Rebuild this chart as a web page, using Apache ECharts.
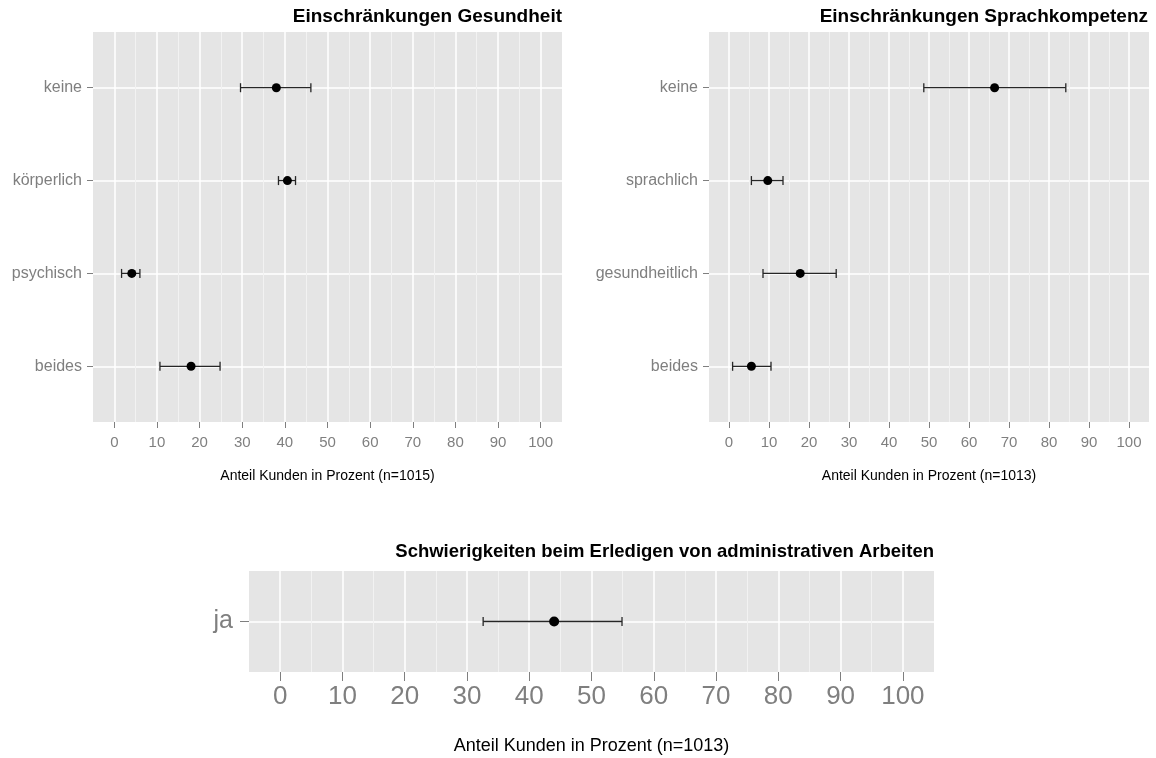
<!DOCTYPE html>
<html>
<head>
<meta charset="utf-8">
<script src="https://cdn.jsdelivr.net/npm/echarts@6/dist/echarts.min.js"></script>
<style>
  html, body { margin: 0; padding: 0; background: #ffffff; }
  #chart { width: 1156px; height: 758px; }
</style>
</head>
<body>
<div id="chart"></div>
<script>
// Gesundheitliche Einschränkungen: Anteil in %, mit Konfidenzintervall
const healthCats = ['keine', 'körperlich', 'psychisch', 'beides'];
const healthMean = [38.0, 40.6, 4.1, 18.0];
const healthLow  = [29.6, 38.5, 1.7, 10.7];
const healthHigh = [46.1, 42.5, 6.0, 24.8];

// Einschränkungen der Sprachkompetenz
const langCats = ['keine', 'sprachlich', 'gesundheitlich', 'beides'];
const langMean = [66.4, 9.7, 17.8, 5.6];
const langLow  = [48.7, 5.6, 8.5, 0.9];
const langHigh = [84.2, 13.5, 26.8, 10.5];

// Schwierigkeiten bei administrativen Arbeiten
const adminCats = ['ja'];
const adminMean = [44.0];
const adminLow  = [32.6];
const adminHigh = [54.9];

// Achsenbeschriftungen
const xTicks = [0, 10, 20, 30, 40, 50, 60, 70, 80, 90, 100];
const xMinor = [5, 15, 25, 35, 45, 55, 65, 75, 85, 95];

const titles = ['Einschränkungen Gesundheit', 'Einschränkungen Sprachkompetenz',
                'Schwierigkeiten beim Erledigen von administrativen Arbeiten'];
const xNames = ['Anteil Kunden in Prozent (n=1015)', 'Anteil Kunden in Prozent (n=1013)',
                'Anteil Kunden in Prozent (n=1013)'];

const FONT = "'Liberation Sans', Arial, sans-serif";
const GREY = '#7f7f7f';
const BG = '#e5e5e5';

const panels = [
  { cats: healthCats, mean: healthMean, low: healthLow, high: healthHigh,
    grid: { left: 93, top: 32, width: 469, height: 390 },
    yFont: 16, yMargin: 11, tickLen: 6, xFont: 15, xMargin: 13, nameFont: 14, nameGap: 47,
    titleRight: 594, titleTop: 7, titleFont: 19, sym: 9 },
  { cats: langCats, mean: langMean, low: langLow, high: langHigh,
    grid: { left: 709, top: 32, width: 440, height: 390 },
    yFont: 16, yMargin: 11, tickLen: 6, xFont: 15, xMargin: 13, nameFont: 14, nameGap: 47,
    titleRight: 8, titleTop: 7, titleFont: 19, sym: 9 },
  { cats: adminCats, mean: adminMean, low: adminLow, high: adminHigh,
    grid: { left: 249, top: 571, width: 685, height: 101 },
    yFont: 25, yMargin: 16, tickLen: 9, xFont: 26, xMargin: 12, nameFont: 18, nameGap: 65,
    titleRight: 222, titleTop: 542, titleFont: 18.5, sym: 10 }
];

const grids = [], xAxes = [], yAxes = [], series = [], titleList = [];

panels.forEach((p, i) => {
  const yVals = p.cats.map((c, k) => k + 1);
  grids.push(Object.assign({ show: true, backgroundColor: BG, borderWidth: 0 }, p.grid));

  titleList.push({
    text: titles[i], right: p.titleRight, top: p.titleTop, padding: 0,
    textStyle: { fontFamily: FONT, fontSize: p.titleFont, fontWeight: 'bold', color: '#000' }
  });

  // Hauptachse mit Beschriftung und Hauptgitter
  xAxes.push({
    type: 'value', gridIndex: i, min: -5, max: 105, position: 'bottom',
    name: xNames[i], nameLocation: 'middle', nameGap: p.nameGap,
    nameTextStyle: { fontFamily: FONT, fontSize: p.nameFont, color: '#000' },
    axisLine: { show: false, onZero: false },
    axisTick: { show: true, customValues: xTicks, length: p.tickLen, lineStyle: { color: GREY, width: 1 } },
    axisLabel: { show: true, customValues: xTicks, margin: p.xMargin, fontFamily: FONT,
                 fontSize: p.xFont, color: GREY },
    splitLine: { show: true, lineStyle: { color: '#ffffff', width: 1.5 } }
  });
  yAxes.push({
    type: 'value', gridIndex: i, min: 0.4, max: p.cats.length + 0.6, inverse: true,
    position: 'left',
    axisLine: { show: false, onZero: false },
    axisTick: { show: true, customValues: yVals, length: p.tickLen, lineStyle: { color: GREY, width: 1 } },
    axisLabel: { show: true, customValues: yVals, margin: p.yMargin,
                 fontFamily: FONT, fontSize: p.yFont, color: GREY,
                 formatter: v => p.cats[Math.round(v) - 1] || '' },
    splitLine: { show: true, lineStyle: { color: '#ffffff', width: 1.5 } }
  });
});

// Nebengitter (5, 15, …, 95) auf einer zweiten, unsichtbaren x-Achse je Feld
panels.forEach((p, i) => {
  xAxes.push({
    type: 'value', gridIndex: i, min: -5, max: 105, position: 'top',
    axisLine: { show: false, onZero: false }, axisLabel: { show: false },
    axisTick: { show: false, customValues: xMinor },
    splitLine: { show: true, lineStyle: { color: '#f2f2f2', width: 1 } }
  });
});

panels.forEach((p, i) => {
  const barData = p.cats.map((c, k) => [p.low[k], p.high[k], k + 1]);
  series.push({
    type: 'custom', xAxisIndex: i, yAxisIndex: i, z: 3,
    data: barData,
    encode: { x: [0, 1], y: 2 },
    renderItem: (params, api) => {
      const a = api.coord([api.value(0), api.value(2)]);
      const b = api.coord([api.value(1), api.value(2)]);
      const cap = 4.5;
      const style = { stroke: '#262626', lineWidth: 1.3 };
      return {
        type: 'group',
        children: [
          { type: 'line', shape: { x1: a[0], y1: a[1], x2: b[0], y2: b[1] }, style },
          { type: 'line', shape: { x1: a[0], y1: a[1] - cap, x2: a[0], y2: a[1] + cap }, style },
          { type: 'line', shape: { x1: b[0], y1: b[1] - cap, x2: b[0], y2: b[1] + cap }, style }
        ]
      };
    }
  });
  series.push({
    type: 'scatter', xAxisIndex: i, yAxisIndex: i, z: 4,
    symbol: 'circle', symbolSize: p.sym,
    itemStyle: { color: '#000000', opacity: 1 },
    data: p.mean.map((m, k) => [m, k + 1])
  });
});

const chart = echarts.init(document.getElementById('chart'), null, { renderer: 'canvas' });
chart.setOption({
  animation: false,
  backgroundColor: '#ffffff',
  textStyle: { fontFamily: FONT },
  title: titleList,
  grid: grids,
  xAxis: xAxes,
  yAxis: yAxes,
  series: series
});
</script>
</body>
</html>
